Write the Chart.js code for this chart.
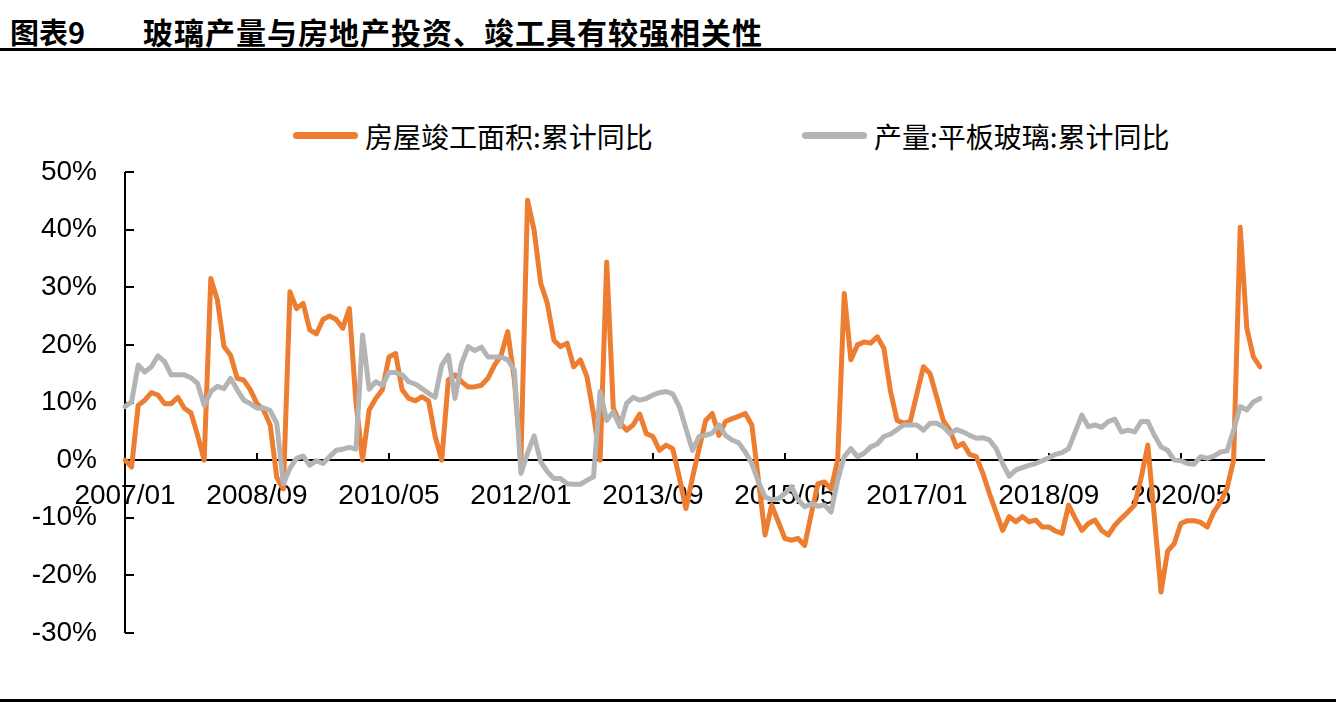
<!DOCTYPE html>
<html>
<head>
<meta charset="utf-8">
<script src="https://cdn.jsdelivr.net/npm/chart.js@4.4.1/dist/chart.umd.min.js"></script>
<style>
  html, body { margin: 0; padding: 0; background: #fff; }
  #wrap { position: relative; width: 1339px; height: 707px; overflow: hidden; }
  #c { position: absolute; left: 0; top: 0; }
  .rule { position: absolute; left: 0; width: 1336px; height: 3px; background: #000; }
  .title { position: absolute; top: 13px; font-family: 'Noto Sans CJK SC', sans-serif; font-weight: bold; font-size: 29px; line-height: 36px; color: #000; white-space: nowrap; }
  #legend { position: absolute; top: 116px; left: 0; width: 1339px; height: 40px; font-family: 'Noto Sans CJK SC', sans-serif; font-size: 28px; color: #000; }
  .lg-item { position: absolute; top: 0; height: 40px; line-height: 40px; white-space: nowrap; }
  .lg-line { position: absolute; top: 16px; left: 0; width: 65px; height: 7px; border-radius: 4px; }
  .lg-text { position: absolute; left: 72px; top: 0; }
</style>
</head>
<body>
<div id="wrap">
  <div class="title" style="left:10px;">图表9</div>
  <div class="title" style="left:143px; letter-spacing:1px; font-size:30px;">玻璃产量与房地产投资、竣工具有较强相关性</div>
  <div class="rule" style="top:48px;"></div>
  <div id="legend"></div>
  <canvas id="c" width="1339" height="707"></canvas>
  <div class="rule" style="top:699px;"></div>
</div>
<script>
// ---- 数据 (月度, 2007/01 - 2021/05) ----
const shownTicks = ['2007/01', '2008/09', '2010/05', '2012/01', '2013/09', '2015/05', '2017/01', '2018/09', '2020/05'];
const seriesNames = ['房屋竣工面积:累计同比', '产量:平板玻璃:累计同比'];
const seriesColors = ['#ED7D31', '#B4B4B4'];

// 房屋竣工面积:累计同比 (%)
const completionYoY = [
  0, -1.2, 9.5, 10.4, 11.7, 11.3, 9.8, 9.8, 10.9, 9.0, 8.2, 4.3,
  0, 31.5, 27.8, 19.7, 18.2, 14.2, 13.9, 12.2, 9.8, 8.7, 6.1, -3.0,
  -5.0, 29.2, 26.3, 27.2, 22.6, 21.9, 24.4, 25.0, 24.4, 22.9, 26.3, 10.0,
  0, 8.7, 10.7, 12.2, 17.9, 18.5, 12.2, 10.7, 10.3, 11.0, 10.3, 4.1,
  0, 13.9, 14.8, 13.6, 12.7, 12.7, 13.0, 14.2, 16.5, 18.2, 22.3, 14.0,
  0, 45.1, 39.9, 30.7, 27.2, 20.8, 19.7, 20.3, 16.2, 17.4, 14.5, 8.0,
  0, 34.4, 9.0, 6.5, 5.2, 6.1, 8.0, 4.6, 4.1, 1.7, 2.6, 2.0,
  -3.0, -8.4, -3.0, 2.0, 6.9, 8.1, 4.3, 6.7, 7.2, 7.6, 8.1, 6.1,
  -3.5, -13.0, -7.8, -10.7, -13.6, -13.9, -13.6, -14.8, -9.3, -4.1, -3.8, -5.0,
  0, 28.9, 17.4, 20.0, 20.5, 20.3, 21.4, 19.4, 12.0, 6.9, 6.4, 6.7,
  11.5, 16.2, 15.0, 11.0, 6.9, 5.2, 2.3, 2.9, 1.0, 0.6, -2.3, -5.8,
  -9.0, -12.2, -9.8, -10.7, -9.8, -10.7, -10.4, -11.6, -11.6, -12.3, -12.7, -7.8,
  -10.1, -12.2, -11.0, -10.4, -12.2, -13.0, -11.3, -10.1, -9.0, -7.8, -3.0, 2.6,
  -10.0, -22.9, -15.8, -14.5, -11.0, -10.5, -10.5, -10.8, -11.6, -9.0, -7.3, -4.9,
  0, 40.4, 22.9, 17.9, 16.2
];

// 产量:平板玻璃:累计同比 (%)
const glassYoY = [
  9.3, 10.1, 16.5, 15.3, 16.2, 18.1, 17.1, 14.8, 14.8, 14.8, 14.3, 13.3,
  9.5, 11.9, 12.8, 12.4, 14.2, 12.2, 10.4, 9.8, 9.0, 9.1, 8.6, 6.4,
  -4.1, -1.4, 0.3, 0.7, -0.9, -0.1, -0.6, 0.6, 1.7, 1.9, 2.2, 1.9,
  21.7, 12.3, 13.6, 13.0, 15.2, 15.2, 14.8, 13.6, 13.2, 12.4, 11.6, 10.9,
  16.5, 18.2, 10.7, 16.8, 19.7, 19.0, 19.6, 17.9, 17.9, 17.9, 17.4, 15.6,
  -2.3, 1.2, 4.2, -0.3, -2.0, -3.2, -3.2, -4.1, -4.2, -4.2, -3.5, -2.9,
  11.9, 6.9, 8.4, 5.8, 9.8, 10.9, 10.4, 10.7, 11.3, 11.7, 11.9, 11.5,
  9.3, 5.5, 1.7, 4.1, 4.3, 4.7, 6.1, 4.3, 3.5, 3.0, 1.4, -0.6,
  -3.8, -6.4, -6.9, -6.7, -5.8, -4.6, -6.9, -8.1, -7.6, -8.0, -7.8, -9.0,
  -3.5, 0.6, 2.0, 0.6, 1.2, 2.3, 2.8, 4.1, 4.5, 5.3, 6.1, 6.1,
  6.1, 5.2, 6.4, 6.4, 5.8, 4.6, 5.3, 4.9, 4.3, 3.8, 3.9, 3.5,
  2.0, -0.6, -2.8, -1.7, -1.3, -0.9, -0.6, -0.1, 0.4, 1.0, 1.3, 2.0,
  4.9, 7.8, 5.8, 6.1, 5.7, 6.7, 7.1, 4.9, 5.2, 4.9, 6.7, 6.7,
  4.3, 2.3, 1.7, 0, -0.1, -0.6, -0.7, 0.6, 0.3, 0.7, 1.4, 1.6,
  5.2, 9.3, 8.7, 10.1, 10.7
];

// 月份标签
const months = [];
for (let i = 0; i < completionYoY.length; i++) {
  const y = 2007 + Math.floor(i / 12), m = (i % 12) + 1;
  months.push(y + '/' + (m < 10 ? '0' + m : m));
}

const FONT = "'Liberation Sans', Arial, sans-serif";

// 图例
let lgHtml = '';
const lgLeft = [293, 802];
seriesNames.forEach((name, k) => {
  lgHtml += `<div class="lg-item" style="left:${lgLeft[k]}px;">
    <div class="lg-line" style="background:${seriesColors[k]};"></div>
    <div class="lg-text">${name}</div></div>`;
});
document.getElementById('legend').innerHTML = lgHtml;

// 坐标轴线与刻度 (画在折线下面)
const axisLines = {
  id: 'axisLines',
  beforeDatasetsDraw(chart) {
    const { ctx, scales: { x, y } } = chart;
    const y0 = Math.round(y.getPixelForValue(0));
    const xl = Math.round(x.left);
    ctx.save();
    ctx.strokeStyle = '#000';
    ctx.lineWidth = 2;
    ctx.beginPath();
    ctx.moveTo(xl, y.top); ctx.lineTo(xl, y.bottom);
    y.ticks.forEach(t => {
      const py = Math.round(y.getPixelForValue(t.value));
      ctx.moveTo(xl, py); ctx.lineTo(xl + 9, py);
    });
    ctx.moveTo(xl, y0); ctx.lineTo(x.right + 5, y0);
    months.forEach((m, i) => {
      if (shownTicks.includes(m) && i > 0) {
        const px = Math.round(x.getPixelForValue(i));
        ctx.moveTo(px, y0); ctx.lineTo(px, y0 - 7);
      }
    });
    ctx.stroke();
    ctx.restore();
  }
};

new Chart(document.getElementById('c'), {
  type: 'line',
  data: {
    labels: months,
    datasets: [
      { label: seriesNames[0], data: completionYoY, borderColor: seriesColors[0], borderWidth: 5, order: 2 },
      { label: seriesNames[1], data: glassYoY, borderColor: seriesColors[1], borderWidth: 5, order: 1 }
    ]
  },
  options: {
    responsive: false,
    animation: false,
    devicePixelRatio: 1,
    layout: { padding: { left: 0, top: 172, right: 79, bottom: 74 } },
    elements: {
      point: { radius: 0 },
      line: { tension: 0, borderJoinStyle: 'round', borderCapStyle: 'round' }
    },
    plugins: { legend: { display: false }, tooltip: { enabled: false } },
    scales: {
      x: {
        type: 'category',
        position: { y: 0 },
        grid: { display: false, drawTicks: false },
        border: { display: false },
        ticks: {
          autoSkip: false, maxRotation: 0, minRotation: 0, padding: 19,
          color: '#000', font: { family: FONT, size: 28 },
          callback: (v, i) => shownTicks.includes(months[i]) ? months[i] : ''
        }
      },
      y: {
        min: -30, max: 50,
        afterFit: s => { s.width = 125; },
        grid: { display: false, drawTicks: false },
        border: { display: false },
        ticks: {
          stepSize: 10, padding: 28, color: '#000', font: { family: FONT, size: 28 },
          callback: v => v + '%'
        }
      }
    }
  },
  plugins: [axisLines]
});
</script>
</body>
</html>
